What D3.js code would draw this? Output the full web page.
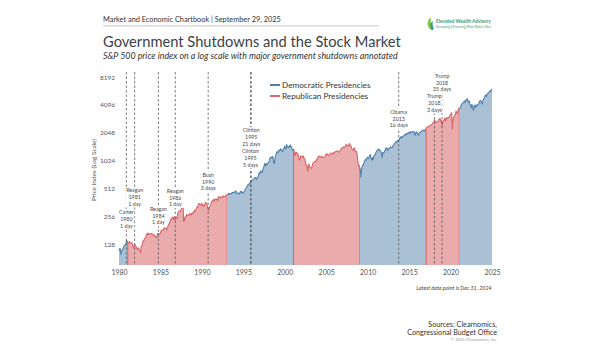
<!DOCTYPE html>
<html>
<head>
<meta charset="utf-8">
<script src="https://cdn.jsdelivr.net/npm/d3@7"></script>
<style>
  body { margin: 0; background: #fff; }
  svg { display: block; font-family: Lato, "Open Sans", sans-serif; }
</style>
</head>
<body>
<svg id="chart" width="600" height="350"></svg>
<script>
// ---- DATA ----
// S&P 500 month-end closes, Jan 1980 .. Dec 2024 (read off the chart / approx)
const firstYear = 1980
const spxStart = 107.9   // Dec 31, 1979
const spxMonthly = [
  114.2,113.7,102.1,106.3,111.2,114.2,121.7,122.4,125.5,127.5,140.5,135.8,   // 1980
  129.6,131.3,136.0,132.8,133.0,131.2,130.9,122.8,116.2,121.9,126.4,122.6,   // 1981
  120.4,113.1,112.0,116.4,111.9,109.6,107.1,119.5,120.4,133.7,138.5,140.6,   // 1982
  145.3,148.1,153.0,164.4,162.4,168.1,162.6,164.4,166.1,163.6,166.4,164.9,   // 1983
  163.4,157.1,159.2,160.1,150.6,153.2,150.7,166.7,166.1,166.1,163.6,167.2,   // 1984
  179.6,181.2,180.7,179.8,189.6,191.9,190.9,188.6,182.1,189.8,202.2,211.3,   // 1985
  211.8,226.9,238.9,235.5,247.4,250.8,236.1,252.9,231.3,244.0,249.2,242.2,   // 1986
  274.1,284.2,291.7,288.4,290.1,304.0,318.7,329.8,321.8,251.8,230.3,247.1,   // 1987
  257.1,267.8,258.9,261.3,262.2,273.5,272.0,261.5,271.9,279.0,273.7,277.7,   // 1988
  297.5,288.9,294.9,309.6,320.5,318.0,346.1,351.5,349.2,340.4,346.0,353.4,   // 1989
  329.1,331.9,339.9,330.8,361.2,358.0,356.2,322.6,306.1,304.0,322.2,330.2,   // 1990
  343.9,367.1,375.2,375.3,389.8,371.2,387.8,395.4,387.9,392.5,375.2,417.1,   // 1991
  408.8,412.7,403.7,415.0,415.4,408.1,424.2,414.0,417.8,418.7,431.4,435.7,   // 1992
  438.8,443.4,451.7,440.2,450.2,450.5,448.1,463.6,458.9,467.8,461.8,466.5,   // 1993
  481.6,467.1,445.8,450.9,456.5,444.3,458.3,475.5,462.7,472.4,453.7,459.3,   // 1994
  470.4,487.4,500.7,514.7,533.4,544.8,562.1,561.9,584.4,581.5,605.4,615.9,   // 1995
  636.0,640.4,645.5,654.2,669.1,670.6,639.9,652.0,687.3,705.3,757.0,740.7,   // 1996
  786.2,790.8,757.1,801.3,848.3,885.1,954.3,899.5,947.3,914.6,955.4,970.4,   // 1997
  980.3,1049.3,1101.8,1111.8,1090.8,1133.8,1120.7,957.3,1017.0,1098.7,1163.6,1229.2, // 1998
  1279.6,1238.3,1286.4,1335.2,1301.8,1372.7,1328.7,1320.4,1282.7,1362.9,1388.9,1469.3, // 1999
  1394.5,1366.4,1498.6,1452.4,1420.6,1454.6,1430.8,1517.7,1436.5,1429.4,1315.2,1320.3, // 2000
  1366.0,1239.9,1160.3,1249.5,1255.8,1224.4,1211.2,1133.6,1040.9,1059.8,1139.5,1148.1, // 2001
  1130.2,1106.7,1147.4,1076.9,1067.1,989.8,911.6,916.1,815.3,885.8,936.3,879.8,       // 2002
  855.7,841.2,848.2,916.9,963.6,974.5,990.3,1008.0,996.0,1050.7,1058.2,1111.9,        // 2003
  1131.1,1144.9,1126.2,1107.3,1120.7,1140.8,1101.7,1104.2,1114.6,1130.2,1173.8,1211.9, // 2004
  1181.3,1203.6,1180.6,1156.9,1191.5,1191.3,1234.2,1220.3,1228.8,1207.0,1249.5,1248.3, // 2005
  1280.1,1280.7,1294.9,1310.6,1270.1,1270.2,1276.7,1303.8,1335.9,1377.9,1400.6,1418.3, // 2006
  1438.2,1406.8,1420.9,1482.4,1530.6,1503.4,1455.3,1474.0,1526.8,1549.4,1481.1,1468.4, // 2007
  1378.6,1330.6,1322.7,1385.6,1400.4,1280.0,1267.4,1282.8,1166.4,968.8,896.2,903.3,    // 2008
  825.9,735.1,797.9,872.8,919.1,919.3,987.5,1020.6,1057.1,1036.2,1095.6,1115.1,       // 2009
  1073.9,1104.5,1169.4,1186.7,1089.4,1030.7,1101.6,1049.3,1141.2,1183.3,1180.6,1257.6, // 2010
  1286.1,1327.2,1325.8,1363.6,1345.2,1320.6,1292.3,1218.9,1131.4,1253.3,1247.0,1257.6, // 2011
  1312.4,1365.7,1408.5,1397.9,1310.3,1362.2,1379.3,1406.6,1440.7,1412.2,1416.2,1426.2, // 2012
  1498.1,1514.7,1569.2,1597.6,1630.7,1606.3,1685.7,1633.0,1681.6,1756.5,1805.8,1848.4, // 2013
  1782.6,1859.5,1872.3,1884.0,1923.6,1960.2,1930.7,2003.4,1972.3,2018.1,2067.6,2058.9, // 2014
  1995.0,2104.5,2067.9,2085.5,2107.4,2063.1,2103.8,1972.2,1920.0,2079.4,2080.4,2043.9, // 2015
  1940.2,1932.2,2059.7,2065.3,2097.0,2098.9,2173.6,2171.0,2168.3,2126.2,2199.0,2238.8, // 2016
  2278.9,2363.6,2362.7,2384.2,2411.8,2423.4,2470.3,2471.7,2519.4,2575.3,2647.6,2673.6, // 2017
  2823.8,2713.8,2640.9,2648.1,2705.3,2718.4,2816.3,2901.5,2914.0,2711.7,2760.2,2506.9, // 2018
  2704.1,2784.5,2834.4,2945.8,2752.1,2941.8,2980.4,2926.5,2976.7,3037.6,3141.0,3230.8, // 2019
  3225.5,2954.2,2584.6,2912.4,3044.3,3100.3,3271.1,3500.3,3363.0,3270.0,3621.6,3756.1, // 2020
  3714.2,3811.2,3972.9,4181.2,4204.1,4297.5,4395.3,4522.7,4307.5,4605.4,4567.0,4766.2, // 2021
  4515.6,4373.9,4530.4,4131.9,4132.2,3785.4,4130.3,3955.0,3585.6,3872.0,4080.1,3839.5, // 2022
  4076.6,3970.2,4109.3,4169.5,4179.8,4450.4,4589.0,4507.7,4288.1,4193.8,4567.8,4769.8, // 2023
  4845.7,5096.3,5254.4,5035.7,5277.5,5460.5,5522.3,5648.4,5762.5,5705.5,6032.4,5881.6  // 2024
]
// intra-month highs and lows that show up as spikes in the line
const spxExtremeDates  = ["1980-03-27","1982-08-12","1987-08-25","1987-10-19","1990-10-11","1998-10-08","2000-03-24","2002-10-09","2007-10-09","2009-03-09","2011-10-03","2018-12-24","2020-02-19","2020-03-23","2022-01-03","2022-10-12"]
const spxExtremeValues = [98.2,102.4,336.8,224.8,295.5,959.4,1527.5,776.8,1565.2,676.5,1099.2,2351.1,3386.2,2237.4,4796.6,3577.0]

// presidencies (consecutive terms of the same party merged)
const termStart = ["1977-01-20","1981-01-20","1993-01-20","2001-01-20","2009-01-20","2017-01-20","2021-01-20"]
const termEnd   = ["1981-01-20","1993-01-20","2001-01-20","2009-01-20","2017-01-20","2021-01-20","2025-01-20"]
const termParty = ["D","R","D","R","D","R","D"]

// government shutdowns
const shutdownDate      = ["1980-11-20","1981-11-20","1984-10-03","1986-10-16","1990-10-05","1995-12-15","1995-11-13","2013-10-01","2018-01-20","2018-12-22"]
const shutdownPresident = ["Carter","Reagan","Reagan","Reagan","Bush","Clinton","Clinton","Obama","Trump","Trump"]
const shutdownYear      = [1980,1981,1984,1986,1990,1995,1995,2013,2018,2018]
const shutdownDays      = [1,1,1,1,3,21,5,16,3,35]

const yTicks = [128,256,512,1024,2048,4096,8192]
const xTicks = [1980,1985,1990,1995,2000,2005,2010,2015,2020,2025]

const legendLabels = ["Democratic Presidencies","Republican Presidencies"]

// ---- SETUP ----
const parse = d3.timeParse("%Y-%m-%d")
const svg = d3.select("#chart")

const blueLine = "#4f80ae", blueFill = "#aac0d5"
const redLine = "#d9656a", redFill = "#e9abac"
const partyLine = p => p === "D" ? blueLine : redLine
const partyFill = p => p === "D" ? blueFill : redFill

let series = [{date: new Date(firstYear, 0, 1), value: spxStart}]
spxMonthly.forEach((v, i) => series.push({date: new Date(firstYear, i + 1, 0), value: v}))
spxExtremeDates.forEach((d, i) => series.push({date: parse(d), value: spxExtremeValues[i]}))
series.sort((a, b) => a.date - b.date)

const x = d3.scaleTime()
  .domain([new Date(1980, 0, 1), new Date(2025, 0, 1)])
  .range([119, 492])

const y = d3.scaleLog().base(2)
  .domain([76, 9280])
  .range([265, 72])

const yBottom = y.domain()[0]

// value at an arbitrary date (linear between points), to cut the areas at term changes
const bis = d3.bisector(d => d.date).left
function valueAt(date) {
  const i = bis(series, date)
  if (i <= 0) return series[0].value
  if (i >= series.length) return series[series.length - 1].value
  const a = series[i - 1], b = series[i]
  const t = (date - a.date) / (b.date - a.date)
  return a.value + t * (b.value - a.value)
}

const area = d3.area().x(d => x(d.date)).y0(y(yBottom)).y1(d => y(d.value))
const line = d3.line().x(d => x(d.date)).y(d => y(d.value))

// ---- AREAS PER PRESIDENCY ----
const plot = svg.append("g")
termStart.forEach((s, i) => {
  const d0 = d3.max([parse(s), x.domain()[0]])
  const d1 = d3.min([parse(termEnd[i]), series[series.length - 1].date])
  if (d1 <= d0) return
  const pts = [{date: d0, value: valueAt(d0)}]
    .concat(series.filter(d => d.date > d0 && d.date < d1))
    .concat([{date: d1, value: valueAt(d1)}])
  plot.append("path")
    .attr("d", area(pts))
    .attr("fill", partyFill(termParty[i]))
  let outline = pts
  if (termParty[i] === "R") {
    // red terms get their side edges drawn too
    outline = [{date: d0, value: yBottom}].concat(pts).concat([{date: d1, value: yBottom}])
  }
  plot.append("path")
    .attr("d", line(outline))
    .attr("fill", "none")
    .attr("stroke", partyLine(termParty[i]))
    .attr("stroke-width", 1.1)
    .attr("stroke-linejoin", "round")
})

// ---- SHUTDOWN LINES + LABELS ----
const labelTop = [212.5, 190.5, 209, 191, 175, 130.5, 151.5, 112, 96.5, 76]
const lineGap = 6.7

svg.append("g")
  .selectAll("line")
  .data(shutdownDate)
  .join("line")
    .attr("x1", d => x(parse(d)))
    .attr("x2", d => x(parse(d)))
    .attr("y1", 72)
    .attr("y2", 265)
    .attr("stroke", "#5a5a5a")
    .attr("stroke-width", 0.8)
    .attr("stroke-dasharray", "2.5,2")

const labels = svg.append("g")
shutdownDate.forEach((d, i) => {
  const cx = x(parse(d))
  const lines = [shutdownPresident[i], String(shutdownYear[i]), shutdownDays[i] + (shutdownDays[i] === 1 ? " day" : " days")]
  const g = labels.append("g")
  const bg = g.append("rect").attr("fill", "#fff")
  const t = g.selectAll("text")
    .data(lines)
    .join("text")
      .attr("x", cx)
      .attr("y", (l, j) => labelTop[i] + j * lineGap)
      .attr("dy", "0.35em")
      .attr("text-anchor", "middle")
      .attr("font-size", 5.3)
      .attr("fill", "#4a4a4a")
      .text(l => l)
  const w = d3.max(t.nodes(), n => n.getComputedTextLength())
  bg.attr("x", cx - w / 2 - 0.5)
    .attr("y", labelTop[i] - 3.6)
    .attr("width", w + 1)
    .attr("height", lineGap * 2 + 7.2)
})

// ---- AXES ----
const yAxis = svg.append("g")
  .attr("transform", "translate(119,0)")
  .call(d3.axisLeft(y).tickValues(yTicks).tickFormat(d3.format("d")).tickSize(0).tickPadding(4))
yAxis.select(".domain").remove()
yAxis.selectAll("text").attr("font-size", 6.5).attr("fill", "#555").attr("font-family", "Lato, sans-serif")

const xAxis = svg.append("g")
  .attr("transform", "translate(0,265)")
  .call(d3.axisBottom(x).tickValues(xTicks.map(v => new Date(v, 0, 1))).tickFormat(d3.timeFormat("%Y")).tickSize(0).tickPadding(5))
xAxis.select(".domain").remove()
xAxis.selectAll("text").attr("font-size", 7).attr("fill", "#555").attr("font-family", "Lato, sans-serif")

svg.append("text")
  .attr("transform", "translate(94,170) rotate(-90)")
  .attr("text-anchor", "middle")
  .attr("dy", "0.35em")
  .attr("font-size", 6.4)
  .attr("fill", "#555")
  .text("Price Index (Log Scale)")

// ---- LEGEND ----
const legend = svg.append("g")
legendLabels.forEach((l, i) => {
  const ly = 85 + i * 11
  legend.append("line")
    .attr("x1", 270).attr("x2", 280)
    .attr("y1", ly).attr("y2", ly)
    .attr("stroke", i === 0 ? blueLine : redLine)
    .attr("stroke-width", 2)
  legend.append("text")
    .attr("x", 282).attr("y", ly)
    .attr("dy", "0.35em")
    .attr("font-size", 8.2)
    .attr("fill", "#333")
    .text(l)
})

// ---- TITLES ----
function fitText(sel, width) {
  const w = sel.node().getComputedTextLength()
  const fs = +sel.attr("font-size")
  sel.attr("font-size", fs * width / w)
}

const header = svg.append("text")
  .attr("x", 103).attr("y", 21.5)
  .attr("font-size", 8.5)
  .attr("fill", "#333")
  .text("Market and Economic Chartbook | September 29, 2025")
fitText(header, 178)

svg.append("line")
  .attr("x1", 103).attr("x2", 379)
  .attr("y1", 25.8).attr("y2", 25.8)
  .attr("stroke", "#d4d4d8")
  .attr("stroke-width", 1.3)

const title = svg.append("text")
  .attr("x", 103).attr("y", 46.5)
  .attr("font-size", 17)
  .attr("fill", "#3b3f48")
  .text("Government Shutdowns and the Stock Market")
fitText(title, 298)

const subtitle = svg.append("text")
  .attr("x", 103).attr("y", 58.5)
  .attr("font-size", 9.5)
  .attr("font-style", "italic")
  .attr("fill", "#333")
  .text("S&P 500 price index on a log scale with major government shutdowns annotated")
fitText(subtitle, 295)

// logo
const logo = svg.append("g")
logo.append("path")
  .attr("d", "M431,30 C426,26 427,20 431,17 C430,21 431,25 433,29 Z")
  .attr("fill", "#8cc63f")
logo.append("path")
  .attr("d", "M432,30 C429,27 430,23 433,21 C432,24 433,27 434,29 Z")
  .attr("fill", "#2e9e8f")
const logoName = logo.append("text")
  .attr("x", 436).attr("y", 23)
  .attr("font-size", 5.5)
  .attr("font-weight", "bold")
  .attr("fill", "#3a9a7a")
  .text("Elevated Wealth Advisory")
fitText(logoName, 55)
const logoTag = logo.append("text")
  .attr("x", 436).attr("y", 27.5)
  .attr("font-size", 3.5)
  .attr("fill", "#3a9a7a")
  .text("Developing & Protecting What Matters Most")
fitText(logoTag, 55)

// ---- FOOTNOTES ----
svg.append("text")
  .attr("x", 454).attr("y", 290)
  .attr("text-anchor", "middle")
  .attr("font-size", 5.4)
  .attr("font-style", "italic")
  .attr("fill", "#444")
  .text("Latest data point is Dec 31, 2024")

svg.append("text")
  .attr("x", 497).attr("y", 327)
  .attr("text-anchor", "end")
  .attr("font-size", 7.2)
  .attr("fill", "#333")
  .text("Sources: Clearnomics,")
svg.append("text")
  .attr("x", 497).attr("y", 334.5)
  .attr("text-anchor", "end")
  .attr("font-size", 7.2)
  .attr("fill", "#333")
  .text("Congressional Budget Office")
svg.append("text")
  .attr("x", 497).attr("y", 341)
  .attr("text-anchor", "end")
  .attr("font-size", 4.2)
  .attr("fill", "#999")
  .text("© 2025 Clearnomics, Inc.")
</script>
</body>
</html>
